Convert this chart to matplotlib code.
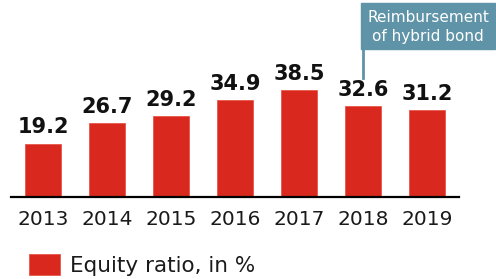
import numpy as np
import matplotlib.pyplot as plt
from matplotlib.patches import Rectangle

# Данные
years = ['2013', '2014', '2015', '2016', '2017', '2018', '2019']
equity_ratio = [19.2, 26.7, 29.2, 34.9, 38.5, 32.6, 31.2]
note_year = '2018'
note_text = 'Reimbursement\nof hybrid bond'

bar_color = '#d9291e'
note_color = '#5f93a8'

W, H = 496, 279
fig = plt.figure(figsize=(W / 100, H / 100), dpi=100)
ax = fig.add_axes([11 / W, (H - 197) / H, (459 - 11) / W, 197 / H])

x = np.arange(len(years))
ax.bar(x, equity_ratio, width=0.55, color=bar_color, edgecolor='#e8574b',
       linewidth=0.6, label='Equity ratio, in %')
for xi, v in zip(x, equity_ratio):
    ax.annotate(f'{v:.1f}', (xi, v), xytext=(0, 4.5), textcoords='offset points',
                ha='center', va='bottom', fontsize=15, fontweight='bold',
                color='#111111')

ax.set_xlim(-0.5, len(years) - 0.5)
ax.set_ylim(0, 70.9)
ax.set_xticks(x)
ax.set_xticklabels(years, fontsize=14.5, color='#1a1a1a')
ax.tick_params(axis='x', length=0, pad=9.5)
ax.set_yticks([])
for s in ['top', 'left', 'right']:
    ax.spines[s].set_visible(False)
ax.spines['bottom'].set_linewidth(1.6)

# Подпись с пояснением
ni = years.index(note_year)
v = equity_ratio[ni]
ax.plot([ni, ni], [v + 10.2, 53.2], color=note_color, lw=2, clip_on=False)
ax.add_patch(Rectangle((ni - 0.03, 53.2), 2.09, 16.6, color=note_color,
                       clip_on=False))
ax.text(ni + 1.02, 61.2, note_text, color='white', fontsize=11,
        ha='center', va='center', linespacing=1.4)

leg = fig.legend(loc='lower left', bbox_to_anchor=(29 / W, 3 / H),
                 frameon=False, fontsize=15.5, borderpad=0, borderaxespad=0,
                 handlelength=1.44, handleheight=1.1, handletextpad=0.46)
for t in leg.get_texts():
    t.set_color('#1a1a1a')

fig.savefig('out.png', dpi=100)
